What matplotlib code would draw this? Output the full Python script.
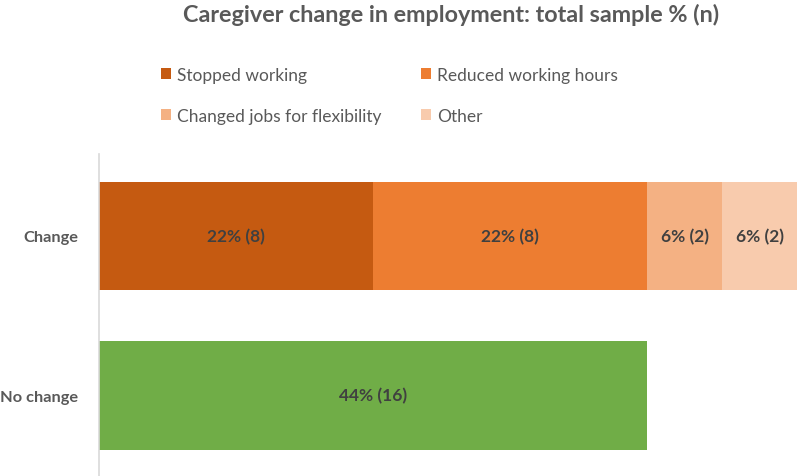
import matplotlib
matplotlib.use("Agg")
import matplotlib.pyplot as plt
from matplotlib.patches import Patch

categories = ["No change", "Change"]
series_names = ["Stopped working", "Reduced working hours", "Changed jobs for flexibility", "Other"]
change_pct = [22, 22, 6, 6]
change_n = [8, 8, 2, 2]
nochange_pct = [44]
nochange_n = [16]
series_colors = ["#C55A11", "#ED7D31", "#F4B183", "#F8CBAD"]
green = "#70AD47"

plt.rcParams['font.family'] = ['Lato', 'DejaVu Sans']

W, H = 797, 477
fig = plt.figure(figsize=(W/100, H/100), dpi=100)
ax = fig.add_axes([99/W, 0, 1 - 99/W, (477-155)/H])

bar_h = 0.68
left = 0
for v, n, c in zip(change_pct, change_n, series_colors):
    ax.barh(1, v, left=left, height=bar_h, color=c, edgecolor='none')
    ax.text(left + v/2, 1, f"{v}% ({n})", ha='center', va='center',
            fontsize=12.5, fontweight='bold', color='#404040')
    left += v
ax.barh(0, nochange_pct[0], height=bar_h, color=green, edgecolor='none')
ax.text(nochange_pct[0]/2, 0, f"{nochange_pct[0]}% ({nochange_n[0]})", ha='center', va='center',
        fontsize=12.5, fontweight='bold', color='#404040')

ax.set_xlim(0, 56)
ax.set_ylim(-0.505, 1.514)
ax.set_yticks([0, 1])
ax.set_yticklabels(categories, fontsize=11.8, fontweight='bold', color='#595959')
ax.tick_params(axis='y', length=0, pad=15)
ax.set_xticks([])
for s in ['top', 'right', 'bottom']:
    ax.spines[s].set_visible(False)
ax.spines['left'].set_color('#D9D9D9')
ax.spines['left'].set_linewidth(1.2)

fig.text(451/W, 1 - 15/H, "Caregiver change in employment: total sample % (n)",
         ha='center', va='center', fontsize=16.8, fontweight='bold', color='#595959')

handles = [Patch(facecolor=c, edgecolor='none') for c in series_colors]
order = [0, 2, 1, 3]
fig.legend([handles[i] for i in order], [series_names[i] for i in order], ncol=2, loc='upper left',
           bbox_to_anchor=(154/W, 1 - 61/H), frameon=False, borderaxespad=0,
           fontsize=12.5, labelcolor='#595959', handlelength=0.6, handleheight=0.6,
           handletextpad=0.3, columnspacing=2.3, labelspacing=1.42)

fig.savefig("out.png", dpi=100)
